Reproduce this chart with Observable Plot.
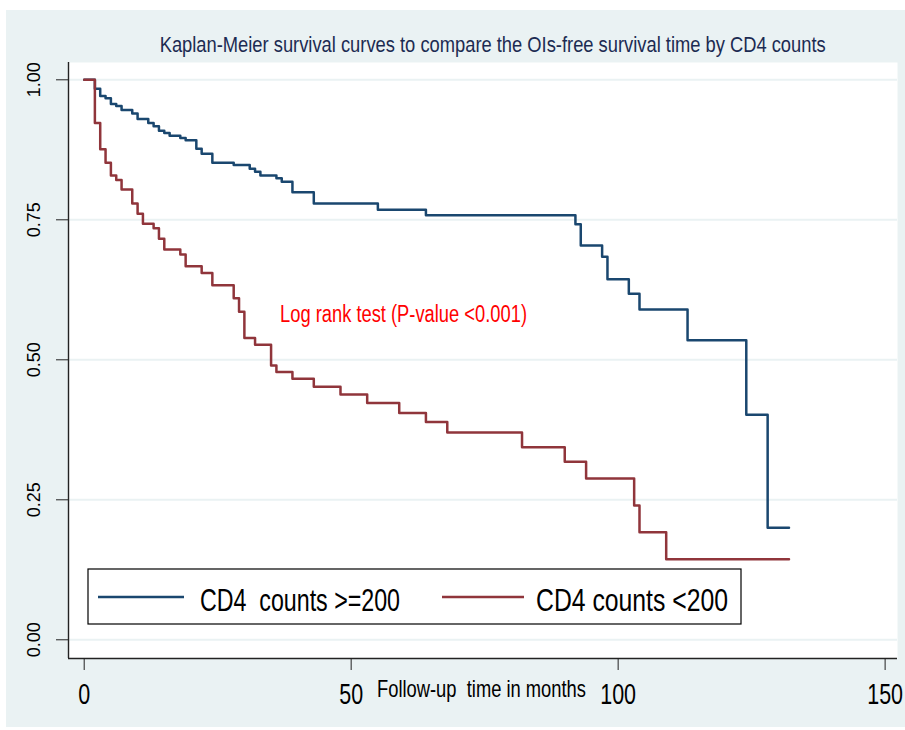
<!DOCTYPE html>
<html>
<head>
<meta charset="utf-8">
<script src="https://cdn.jsdelivr.net/npm/d3@7"></script>
<script src="https://cdn.jsdelivr.net/npm/@observablehq/plot@0.6"></script>
<style>
  body { margin: 0; background: #ffffff; }
  #wrap { position: relative; width: 905px; height: 730px; overflow: hidden; }
  svg text { font-family: "Liberation Sans", Arial, sans-serif; }
</style>
</head>
<body>
<div id="wrap"></div>
<script>
// ---- Data (time in months, survival probability) ----
const highTime = [0,2,3,4,5,6,7,9,10,12,13,14,15,16,18,19,21,22,24,28,31,32,33,36,37,39,43,55,64,92,93,97,98,102,104,113,124,128,132];
const highSurv = [1,0.984,0.971,0.967,0.957,0.953,0.946,0.940,0.930,0.923,0.917,0.909,0.905,0.900,0.896,0.892,0.877,0.868,0.852,0.848,0.841,0.836,0.829,0.824,0.818,0.799,0.779,0.768,0.758,0.742,0.704,0.684,0.644,0.618,0.590,0.535,0.402,0.200,0.200];

const lowTime = [0,2,3,4,5,6,7,9,10,11,13,14,15,18,19,22,24,28,29,30,32,35,36,39,43,48,53,59,64,68,82,90,94,103,104,109,132];
const lowSurv = [1,0.923,0.876,0.852,0.829,0.821,0.804,0.779,0.761,0.743,0.735,0.716,0.697,0.688,0.667,0.655,0.633,0.610,0.586,0.539,0.527,0.490,0.478,0.466,0.452,0.438,0.423,0.405,0.389,0.370,0.344,0.318,0.288,0.240,0.192,0.144,0.144];

const seriesNames = ["CD4  counts >=200", "CD4 counts <200"];
const xTicks = [0, 50, 100, 150];
const yTicks = [0, 0.25, 0.5, 0.75, 1];
const titleText = "Kaplan-Meier survival curves to compare the OIs-free survival time by CD4 counts";
const xLabelText = "Follow-up  time in months";
const noteText = "Log rank test (P-value <0.001)";

// ---- Build tables ----
const high = highTime.map((t, i) => ({t, s: highSurv[i], g: seriesNames[0]}));
const low = lowTime.map((t, i) => ({t, s: lowSurv[i], g: seriesNames[1]}));

const BLUE = "#1a476f";
const RED = "#90353b";
const BG = "#eaf2f3";

const chart = Plot.plot({
  width: 905,
  height: 730,
  marginLeft: 68,
  marginRight: 8,
  marginTop: 62,
  marginBottom: 72,
  style: {background: "transparent", overflow: "visible"},
  x: {domain: [-2.94, 152.32]},
  y: {domain: [-0.0334, 1.0309]},
  marks: [
    Plot.frame({fill: "white", stroke: null}),
    Plot.ruleY(yTicks, {stroke: BG, strokeWidth: 2}),
    Plot.line(high, {x: "t", y: "s", curve: "step-after", stroke: BLUE, strokeWidth: 2.5}),
    Plot.line(low, {x: "t", y: "s", curve: "step-after", stroke: RED, strokeWidth: 2.5}),
    Plot.ruleX([-2.94], {stroke: "#222", strokeWidth: 1.4}),
    Plot.ruleY([-0.0334], {stroke: "#222", strokeWidth: 1.4}),
    Plot.axisX(xTicks, {tickSize: 12, tickPadding: 13, fontSize: 29, label: null, tickFormat: d => String(d), stroke: "#222", fill: "black"}),
    Plot.axisY(yTicks, {tickSize: 12, tickFormat: () => "", label: null, stroke: "#222"}),
    Plot.text(yTicks, {y: d => d, text: d => d3.format(".2f")(d), frameAnchor: "left", dx: -34, rotate: -90,
      textAnchor: "middle", lineAnchor: "middle", fontSize: 18, fill: "black", ariaLabel: "ylabels"})
  ]
});

document.getElementById("wrap").appendChild(chart);
const svg = d3.select(chart);

// Background of the graph region
svg.insert("rect", ":first-child").attr("x", 6).attr("y", 10).attr("width", 899).attr("height", 717).attr("fill", BG);
svg.insert("rect", ":first-child").attr("x", 0).attr("y", 0).attr("width", 905).attr("height", 730).attr("fill", "white");

// Condense x tick labels, stretch y tick labels to match the reference proportions
svg.selectAll('g[aria-label="x-axis tick label"] text').each(function() {
  const L = this.getComputedTextLength();
  d3.select(this).attr("textLength", L * 0.74).attr("lengthAdjust", "spacingAndGlyphs");
});
svg.selectAll('g[aria-label="ylabels"] text').each(function() {
  d3.select(this).attr("textLength", 41).attr("lengthAdjust", "spacingAndGlyphs");
});

function addText(x, y, txt, size, len, fill) {
  svg.append("text")
    .attr("x", x).attr("y", y)
    .attr("text-anchor", "start")
    .attr("font-size", size)
    .attr("fill", fill)
    .attr("textLength", len)
    .attr("lengthAdjust", "spacingAndGlyphs")
    .style("white-space", "pre")
    .text(txt);
}

// Title
addText(159.7, 52, titleText, 22.3, 666, "#1c2b52");
// X axis title
addText(377, 697, xLabelText, 23.7, 209, "black");
// Annotation
addText(280, 321.7, noteText, 23.3, 247, "#ff0000");

// Legend
const lg = svg.append("g");
lg.append("rect").attr("x", 88).attr("y", 569).attr("width", 653).attr("height", 55)
  .attr("fill", "white").attr("stroke", "black").attr("stroke-width", 1.2);
lg.append("line").attr("x1", 98).attr("x2", 184).attr("y1", 597).attr("y2", 597).attr("stroke", BLUE).attr("stroke-width", 2.5);
lg.append("line").attr("x1", 442).attr("x2", 524).attr("y1", 597).attr("y2", 597).attr("stroke", RED).attr("stroke-width", 2.5);
addText(200, 611, seriesNames[0], 31, 200, "black");
addText(536, 611, seriesNames[1], 31, 192, "black");
</script>
</body>
</html>
